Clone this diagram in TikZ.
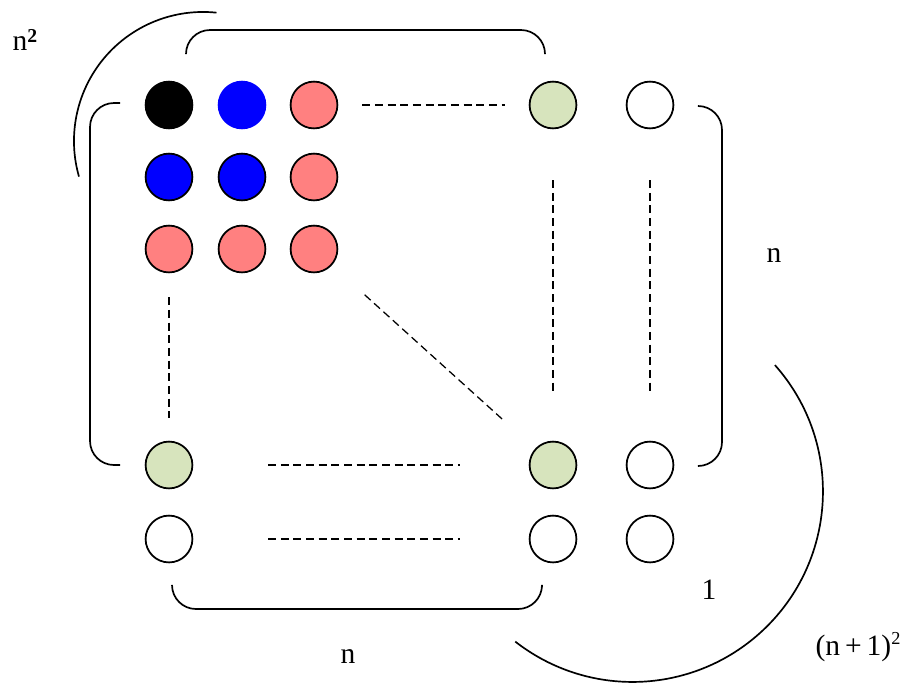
\documentclass[tikz,border=0pt]{standalone}
\usepackage{fontspec}
\setmainfont{Liberation Serif}
\usepackage{tikz}
\usetikzlibrary{calc, positioning}
\usepackage{xcolor}
\definecolor{ballpink}{RGB}{255,128,128}
\definecolor{ballgreen}{RGB}{215,228,189}
\definecolor{ballblue}{RGB}{0,0,255}
\tikzset{
    ballnode/.style={circle, draw=black, line width=1.25pt, minimum size=1.17cm, inner sep=0pt},
    blackball/.style={ballnode, fill=black},
    blueball/.style={ballnode, fill=ballblue},
    pinkball/.style={ballnode, fill=ballpink},
    greenball/.style={ballnode, fill=ballgreen},
    whiteball/.style={ballnode, fill=white},
    dashline/.style={dash pattern=on 5.7pt off 3.3pt, line width=0.9pt},
    bracketline/.style={line width=1.2pt, rounded corners=0.6cm},
    arcline/.style={line width=1.2pt},
    sizelabel/.style={font=\fontsize{21}{25}\selectfont, inner sep=0pt}
}
\begin{document}
\begin{tikzpicture}[x=0.025cm,y=-0.025cm]
            \useasboundingbox (0,0) rectangle (911,684);
            % top left block
            \node[blackball] (k11) at (169,105) {};
            \node[blueball, draw=ballblue] (k12) at (242,105) {};
            \node[pinkball] (k13) at (314,105) {};
            \node[blueball] (k21) at (169,177) {};
            \node[blueball] (k22) at (242,177) {};
            \node[pinkball] (k23) at (314,177) {};
            \node[pinkball] (k31) at (169,249) {};
            \node[pinkball] (k32) at (242,249) {};
            \node[pinkball] (k33) at (314,249) {};
            % columns n and n+1
            \node[greenball] (k1n) at (553,105) {};
            \node[whiteball] (k1m) at (650,105) {};
            \node[greenball] (kn1) at (169,465) {};
            \node[greenball] (knn) at (553,465) {};
            \node[whiteball] (knm) at (650,465) {};
            \node[whiteball] (km1) at (169,539) {};
            \node[whiteball] (kmn) at (553,539) {};
            \node[whiteball] (kmm) at (650,539) {};
            % dashed links
            \draw[dashline, shorten <=0.6cm, shorten >=0.6cm] (k13)--(k1n);
            \draw[dashline, shorten <=0.6cm, shorten >=0.58cm] (k31)--(kn1);
            \draw[dashline, shorten <=1.1cm, shorten >=1.08cm] (k33)--(knn);
            \draw[dashline, shorten <=1.27cm, shorten >=1.15cm] (k1n)--(knn);
            \draw[dashline, shorten <=1.27cm, shorten >=1.15cm] (k1m)--(knm);
            \draw[dashline, shorten <=1.87cm, shorten >=1.72cm] (kn1)--(knn);
            \draw[dashline, shorten <=1.87cm, shorten >=1.72cm] (km1)--(kmn);
            % brackets
            \draw[bracketline] (186,53)--(186,30)--(545,30)--(545,53);
            \draw[bracketline] (120,103)--(90,103)--(90,465)--(120,465);
            \draw[bracketline] (698,106)--(722,106)--(722,466)--(698,466);
            \draw[bracketline] (172,585)--(172,609)--(542,609)--(542,587);
            % arcs
            \draw[arcline] ([shift={(84:3.225cm)}]203,141) arc[start angle=84, end angle=196, radius=3.225cm];
            \draw[arcline] ([shift={(41.6:4.76cm)}]632.5,491.5) arc[start angle=41.6, end angle=-128, radius=4.76cm];
            % labels
            \node[sizelabel] (nsq) at (25,40) {n\raisebox{0.55ex}{\fontsize{14}{16}\selectfont\bfseries 2}};
            \node[sizelabel] (nright) at (774,256) {n};
            \node[sizelabel] (nbottom) at (348,657) {n};
            \node[sizelabel] (one) at (709,590) {1};
            \node[sizelabel] (nplus) at (858,647) {(n\,+\,1)\raisebox{0.85ex}{\fontsize{13}{15}\selectfont 2}};
        \end{tikzpicture}
\end{document}
